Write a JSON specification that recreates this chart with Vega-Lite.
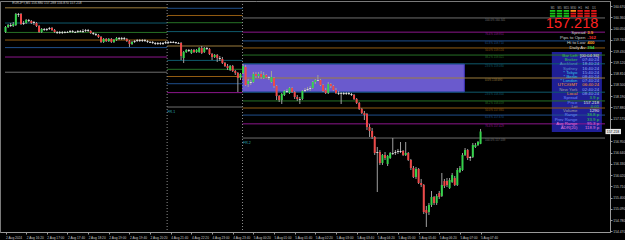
{
"$schema": "https://vega.github.io/schema/vega-lite/v6.json",
"width": 610, "height": 231,
"autosize": {"type": "none"},
"padding": {"left": 0, "top": 1, "right": 15, "bottom": 8},
"background": "#000000",
"config": {"font": "Liberation Sans", "view": {"stroke": "#7a7a7a", "strokeWidth": 1},
  "axis": {"grid": false, "labelOverlap": false, "labelFlush": false, "labelFontSize": 3.3, "labelColor": "#c8c8c8", "tickColor": "#9a9a9a", "domainColor": "#9a9a9a", "tickSize": 2}},
"datasets": {
"candles": [
{"i":0,"o":159.955,"h":160.120,"l":159.928,"c":160.093},
{"i":1,"o":160.093,"h":160.175,"l":160.065,"c":160.148},
{"i":2,"o":160.148,"h":160.203,"l":160.093,"c":160.120},
{"i":3,"o":160.120,"h":160.230,"l":160.093,"c":160.175},
{"i":4,"o":160.148,"h":160.478,"l":160.120,"c":160.450},
{"i":5,"o":160.423,"h":160.478,"l":160.368,"c":160.450},
{"i":6,"o":160.450,"h":160.478,"l":160.148,"c":160.175},
{"i":7,"o":160.175,"h":160.258,"l":160.148,"c":160.203},
{"i":8,"o":160.203,"h":160.313,"l":160.175,"c":160.285},
{"i":9,"o":160.285,"h":160.313,"l":160.230,"c":160.258},
{"i":10,"o":160.258,"h":160.285,"l":160.175,"c":160.203},
{"i":11,"o":160.203,"h":160.258,"l":160.148,"c":160.230},
{"i":12,"o":160.203,"h":160.230,"l":160.093,"c":160.120},
{"i":13,"o":160.120,"h":160.148,"l":159.928,"c":159.955},
{"i":14,"o":159.955,"h":160.065,"l":159.928,"c":160.038},
{"i":15,"o":160.038,"h":160.065,"l":159.983,"c":160.010},
{"i":16,"o":160.010,"h":160.065,"l":159.983,"c":160.038},
{"i":17,"o":160.038,"h":160.093,"l":160.010,"c":160.065},
{"i":18,"o":160.065,"h":160.093,"l":159.983,"c":160.010},
{"i":19,"o":160.010,"h":160.038,"l":159.928,"c":159.955},
{"i":20,"o":159.955,"h":159.983,"l":159.900,"c":159.928},
{"i":21,"o":159.928,"h":159.983,"l":159.900,"c":159.955},
{"i":22,"o":159.955,"h":159.983,"l":159.900,"c":159.928},
{"i":23,"o":159.928,"h":159.983,"l":159.920,"c":159.955},
{"i":24,"o":159.955,"h":159.983,"l":159.928,"c":159.930},
{"i":25,"o":159.955,"h":160.010,"l":159.928,"c":159.983},
{"i":26,"o":159.983,"h":160.010,"l":159.928,"c":159.955},
{"i":27,"o":159.955,"h":159.983,"l":159.928,"c":159.930},
{"i":28,"o":159.955,"h":160.010,"l":159.928,"c":159.983},
{"i":29,"o":159.983,"h":160.010,"l":159.950,"c":159.955},
{"i":30,"o":159.955,"h":160.038,"l":159.928,"c":159.983},
{"i":31,"o":159.983,"h":160.038,"l":159.955,"c":160.010},
{"i":32,"o":160.010,"h":160.038,"l":159.955,"c":159.983},
{"i":33,"o":159.983,"h":160.010,"l":159.900,"c":159.928},
{"i":34,"o":159.928,"h":159.955,"l":159.873,"c":159.900},
{"i":35,"o":159.900,"h":159.928,"l":159.845,"c":159.873},
{"i":36,"o":159.873,"h":159.900,"l":159.790,"c":159.818},
{"i":37,"o":159.818,"h":159.845,"l":159.653,"c":159.680},
{"i":38,"o":159.680,"h":159.790,"l":159.653,"c":159.763},
{"i":39,"o":159.763,"h":159.790,"l":159.680,"c":159.708},
{"i":40,"o":159.708,"h":159.790,"l":159.680,"c":159.763},
{"i":41,"o":159.763,"h":159.790,"l":159.653,"c":159.680},
{"i":42,"o":159.680,"h":159.763,"l":159.653,"c":159.735},
{"i":43,"o":159.735,"h":159.818,"l":159.708,"c":159.790},
{"i":44,"o":159.790,"h":159.818,"l":159.735,"c":159.763},
{"i":45,"o":159.763,"h":159.818,"l":159.735,"c":159.790},
{"i":46,"o":159.790,"h":159.818,"l":159.735,"c":159.763},
{"i":47,"o":159.763,"h":159.790,"l":159.680,"c":159.708},
{"i":48,"o":159.708,"h":159.735,"l":159.543,"c":159.625},
{"i":49,"o":159.625,"h":159.708,"l":159.598,"c":159.680},
{"i":50,"o":159.680,"h":159.735,"l":159.653,"c":159.708},
{"i":51,"o":159.708,"h":159.763,"l":159.680,"c":159.735},
{"i":52,"o":159.735,"h":159.763,"l":159.680,"c":159.708},
{"i":53,"o":159.708,"h":159.763,"l":159.680,"c":159.735},
{"i":54,"o":159.735,"h":159.763,"l":159.680,"c":159.708},
{"i":55,"o":159.708,"h":159.735,"l":159.653,"c":159.680},
{"i":56,"o":159.680,"h":159.708,"l":159.653,"c":159.655},
{"i":57,"o":159.680,"h":159.708,"l":159.625,"c":159.653},
{"i":58,"o":159.653,"h":159.680,"l":159.598,"c":159.625},
{"i":59,"o":159.625,"h":159.680,"l":159.598,"c":159.653},
{"i":60,"o":159.653,"h":159.680,"l":159.598,"c":159.625},
{"i":61,"o":159.625,"h":159.680,"l":159.598,"c":159.653},
{"i":62,"o":159.653,"h":159.708,"l":159.625,"c":159.680},
{"i":63,"o":159.653,"h":159.708,"l":159.625,"c":159.680},
{"i":64,"o":159.680,"h":159.708,"l":159.650,"c":159.653},
{"i":65,"o":159.653,"h":159.708,"l":159.650,"c":159.680},
{"i":66,"o":159.680,"h":159.685,"l":159.625,"c":159.653},
{"i":67,"o":159.653,"h":159.680,"l":159.625,"c":159.628},
{"i":68,"o":159.653,"h":159.680,"l":159.185,"c":159.295},
{"i":69,"o":159.240,"h":159.433,"l":159.103,"c":159.405},
{"i":70,"o":159.405,"h":159.488,"l":159.378,"c":159.460},
{"i":71,"o":159.460,"h":159.488,"l":159.405,"c":159.433},
{"i":72,"o":159.378,"h":159.488,"l":159.350,"c":159.460},
{"i":73,"o":159.460,"h":159.488,"l":159.378,"c":159.405},
{"i":74,"o":159.405,"h":159.488,"l":159.378,"c":159.460},
{"i":75,"o":159.405,"h":159.543,"l":159.378,"c":159.515},
{"i":76,"o":159.515,"h":159.570,"l":159.350,"c":159.378},
{"i":77,"o":159.405,"h":159.543,"l":159.378,"c":159.515},
{"i":78,"o":159.515,"h":159.543,"l":159.460,"c":159.488},
{"i":79,"o":159.488,"h":159.515,"l":159.323,"c":159.350},
{"i":80,"o":159.350,"h":159.378,"l":159.185,"c":159.268},
{"i":81,"o":159.268,"h":159.350,"l":159.240,"c":159.323},
{"i":82,"o":159.323,"h":159.350,"l":159.130,"c":159.240},
{"i":83,"o":159.240,"h":159.295,"l":159.158,"c":159.213},
{"i":84,"o":159.213,"h":159.268,"l":159.075,"c":159.103},
{"i":85,"o":159.103,"h":159.130,"l":158.993,"c":159.020},
{"i":86,"o":159.020,"h":159.075,"l":158.910,"c":158.965},
{"i":87,"o":158.910,"h":159.048,"l":158.883,"c":159.020},
{"i":88,"o":159.020,"h":159.048,"l":158.855,"c":158.883},
{"i":89,"o":158.883,"h":158.910,"l":158.773,"c":158.828},
{"i":90,"o":158.828,"h":158.855,"l":158.305,"c":158.690},
{"i":91,"o":158.690,"h":158.828,"l":158.635,"c":158.800},
{"i":92,"o":158.828,"h":159.075,"l":158.800,"c":159.020},
{"i":93,"o":158.993,"h":159.048,"l":158.470,"c":158.498},
{"i":94,"o":158.525,"h":158.663,"l":158.443,"c":158.608},
{"i":95,"o":158.580,"h":158.635,"l":158.498,"c":158.553},
{"i":96,"o":158.580,"h":158.855,"l":158.553,"c":158.800},
{"i":97,"o":158.800,"h":158.855,"l":158.690,"c":158.745},
{"i":98,"o":158.745,"h":158.855,"l":158.690,"c":158.800},
{"i":99,"o":158.800,"h":158.883,"l":158.663,"c":158.718},
{"i":100,"o":158.690,"h":158.855,"l":158.663,"c":158.773},
{"i":101,"o":158.773,"h":158.800,"l":158.690,"c":158.718},
{"i":102,"o":158.718,"h":158.745,"l":158.635,"c":158.690},
{"i":103,"o":158.580,"h":158.883,"l":158.553,"c":158.718},
{"i":104,"o":158.690,"h":158.718,"l":158.415,"c":158.470},
{"i":105,"o":158.470,"h":158.498,"l":158.085,"c":158.195},
{"i":106,"o":158.195,"h":158.223,"l":158.030,"c":158.085},
{"i":107,"o":158.085,"h":158.278,"l":157.975,"c":158.250},
{"i":108,"o":158.223,"h":158.360,"l":158.195,"c":158.333},
{"i":109,"o":158.333,"h":158.388,"l":158.278,"c":158.305},
{"i":110,"o":158.278,"h":158.443,"l":158.250,"c":158.415},
{"i":111,"o":158.415,"h":158.443,"l":158.278,"c":158.305},
{"i":112,"o":158.305,"h":158.333,"l":158.113,"c":158.168},
{"i":113,"o":158.168,"h":158.223,"l":158.058,"c":158.113},
{"i":114,"o":158.113,"h":158.168,"l":157.975,"c":158.088},
{"i":115,"o":158.113,"h":158.360,"l":158.085,"c":158.333},
{"i":116,"o":158.333,"h":158.415,"l":158.305,"c":158.360},
{"i":117,"o":158.360,"h":158.443,"l":158.333,"c":158.388},
{"i":118,"o":158.388,"h":158.470,"l":158.333,"c":158.415},
{"i":119,"o":158.415,"h":158.608,"l":158.388,"c":158.580},
{"i":120,"o":158.580,"h":158.663,"l":158.525,"c":158.635},
{"i":121,"o":158.635,"h":158.773,"l":158.608,"c":158.610},
{"i":122,"o":158.635,"h":158.663,"l":158.470,"c":158.498},
{"i":123,"o":158.498,"h":158.525,"l":158.305,"c":158.333},
{"i":124,"o":158.360,"h":158.415,"l":158.250,"c":158.278},
{"i":125,"o":158.278,"h":158.580,"l":158.250,"c":158.525},
{"i":126,"o":158.525,"h":158.553,"l":158.415,"c":158.470},
{"i":127,"o":158.470,"h":158.498,"l":158.333,"c":158.360},
{"i":128,"o":158.360,"h":158.415,"l":158.250,"c":158.278},
{"i":129,"o":158.278,"h":158.333,"l":158.223,"c":158.252},
{"i":130,"o":158.278,"h":158.305,"l":157.975,"c":158.253},
{"i":131,"o":158.278,"h":158.305,"l":158.223,"c":158.250},
{"i":132,"o":158.250,"h":158.305,"l":158.223,"c":158.278},
{"i":133,"o":158.278,"h":158.305,"l":158.223,"c":158.250},
{"i":134,"o":158.250,"h":158.278,"l":158.195,"c":158.223},
{"i":135,"o":158.223,"h":158.250,"l":158.085,"c":158.113},
{"i":136,"o":158.113,"h":158.140,"l":157.975,"c":158.003},
{"i":137,"o":158.003,"h":158.030,"l":157.810,"c":157.838},
{"i":138,"o":157.838,"h":157.865,"l":157.700,"c":157.728},
{"i":139,"o":157.728,"h":157.783,"l":157.535,"c":157.673},
{"i":140,"o":157.700,"h":157.728,"l":157.260,"c":157.343},
{"i":141,"o":157.343,"h":157.425,"l":157.068,"c":157.233},
{"i":142,"o":157.233,"h":157.315,"l":157.013,"c":157.068},
{"i":143,"o":157.068,"h":157.095,"l":156.573,"c":156.628},
{"i":144,"o":156.628,"h":156.793,"l":155.555,"c":156.655},
{"i":145,"o":156.655,"h":156.710,"l":156.298,"c":156.353},
{"i":146,"o":156.353,"h":156.600,"l":156.298,"c":156.573},
{"i":147,"o":156.573,"h":156.655,"l":156.435,"c":156.490},
{"i":148,"o":156.325,"h":156.573,"l":156.270,"c":156.545},
{"i":149,"o":156.490,"h":156.655,"l":156.463,"c":156.628},
{"i":150,"o":156.628,"h":157.040,"l":156.573,"c":156.603},
{"i":151,"o":156.628,"h":156.710,"l":156.573,"c":156.655},
{"i":152,"o":156.655,"h":156.738,"l":156.600,"c":156.683},
{"i":153,"o":156.655,"h":156.930,"l":156.628,"c":156.683},
{"i":154,"o":156.683,"h":156.710,"l":156.545,"c":156.573},
{"i":155,"o":156.573,"h":156.930,"l":156.545,"c":156.628},
{"i":156,"o":156.628,"h":156.655,"l":156.408,"c":156.435},
{"i":157,"o":156.435,"h":156.463,"l":156.160,"c":156.215},
{"i":158,"o":156.215,"h":156.270,"l":155.940,"c":155.968},
{"i":159,"o":155.968,"h":156.243,"l":155.913,"c":156.188},
{"i":160,"o":156.188,"h":156.215,"l":155.775,"c":155.803},
{"i":161,"o":155.803,"h":155.913,"l":155.693,"c":155.748},
{"i":162,"o":155.748,"h":155.775,"l":154.950,"c":155.005},
{"i":163,"o":155.060,"h":155.170,"l":154.593,"c":154.978},
{"i":164,"o":155.005,"h":155.253,"l":154.923,"c":155.198},
{"i":165,"o":155.198,"h":155.583,"l":155.143,"c":155.418},
{"i":166,"o":155.418,"h":155.445,"l":155.198,"c":155.253},
{"i":167,"o":155.253,"h":155.500,"l":155.198,"c":155.445},
{"i":168,"o":155.528,"h":155.583,"l":155.363,"c":155.418},
{"i":169,"o":155.445,"h":156.078,"l":155.418,"c":155.748},
{"i":170,"o":155.858,"h":155.913,"l":155.665,"c":155.720},
{"i":171,"o":155.858,"h":155.940,"l":155.693,"c":155.748},
{"i":172,"o":155.665,"h":155.940,"l":155.638,"c":155.885},
{"i":173,"o":155.830,"h":156.078,"l":155.803,"c":156.023},
{"i":174,"o":155.940,"h":155.995,"l":155.720,"c":155.748},
{"i":175,"o":155.748,"h":156.215,"l":155.720,"c":156.160},
{"i":176,"o":156.105,"h":156.270,"l":156.078,"c":156.215},
{"i":177,"o":156.160,"h":156.628,"l":156.133,"c":156.573},
{"i":178,"o":156.573,"h":156.765,"l":156.545,"c":156.710},
{"i":179,"o":156.710,"h":156.738,"l":156.435,"c":156.490},
{"i":180,"o":156.490,"h":156.545,"l":156.408,"c":156.518},
{"i":181,"o":156.518,"h":156.903,"l":156.490,"c":156.848},
{"i":182,"o":156.793,"h":156.903,"l":156.765,"c":156.848},
{"i":183,"o":156.848,"h":156.958,"l":156.820,"c":156.930},
{"i":184,"o":156.880,"h":157.288,"l":156.870,"c":157.218}
],
"fib": [
{"x0":-0.2,"x1":62.6,"p":160.620,"lvl":"0"},
{"x0":-0.2,"x1":62.6,"p":160.202,"lvl":"23.6"},
{"x0":-0.2,"x1":62.6,"p":159.943,"lvl":"38.2"},
{"x0":-0.2,"x1":62.6,"p":159.734,"lvl":"50"},
{"x0":-0.2,"x1":62.6,"p":159.526,"lvl":"61.8"},
{"x0":-0.2,"x1":62.6,"p":159.267,"lvl":"76.4"},
{"x0":-0.2,"x1":62.6,"p":158.849,"lvl":"100"},
{"x0":62.6,"x1":91.8,"p":160.607,"lvl":"61.8"},
{"x0":62.6,"x1":91.8,"p":160.409,"lvl":"50"},
{"x0":62.6,"x1":91.8,"p":160.211,"lvl":"38.2"},
{"x0":62.6,"x1":91.8,"p":159.966,"lvl":"23.6"},
{"x0":62.6,"x1":91.8,"p":159.570,"lvl":"0"},
{"x0":62.6,"x1":91.8,"p":159.174,"lvl":"23.6"},
{"x0":62.6,"x1":91.8,"p":158.929,"lvl":"38.2"},
{"x0":62.6,"x1":91.8,"p":158.731,"lvl":"50"},
{"x0":62.6,"x1":91.8,"p":158.533,"lvl":"61.8"},
{"x0":62.6,"x1":91.8,"p":158.288,"lvl":"76.4"},
{"x0":62.6,"x1":91.8,"p":157.892,"lvl":"100"},
{"x0":91.8,"x1":232.2,"p":160.341,"lvl":"100"},
{"x0":91.8,"x1":232.2,"p":159.951,"lvl":"76.4"},
{"x0":91.8,"x1":232.2,"p":159.710,"lvl":"61.8"},
{"x0":91.8,"x1":232.2,"p":159.516,"lvl":"50"},
{"x0":91.8,"x1":232.2,"p":159.321,"lvl":"38.2"},
{"x0":91.8,"x1":232.2,"p":159.080,"lvl":"23.6"},
{"x0":91.8,"x1":232.2,"p":158.690,"lvl":"0"},
{"x0":91.8,"x1":232.2,"p":158.300,"lvl":"23.6"},
{"x0":91.8,"x1":232.2,"p":158.059,"lvl":"38.2"},
{"x0":91.8,"x1":232.2,"p":157.865,"lvl":"50"},
{"x0":91.8,"x1":232.2,"p":157.670,"lvl":"61.8"},
{"x0":91.8,"x1":232.2,"p":157.429,"lvl":"76.4"},
{"x0":91.8,"x1":232.2,"p":157.039,"lvl":"100"}
],
"fiblab": [
{"p":160.341,"t":"100.0% 160.341","lvl":"100"},
{"p":159.951,"t":"76.4% 159.951","lvl":"76.4"},
{"p":159.710,"t":"61.8% 159.710","lvl":"61.8"},
{"p":159.516,"t":"50.0% 159.516","lvl":"50"},
{"p":159.321,"t":"38.2% 159.321","lvl":"38.2"},
{"p":159.080,"t":"23.6% 159.080","lvl":"23.6"},
{"p":158.690,"t":"0.0% 158.690","lvl":"0"},
{"p":158.300,"t":"23.6% 158.300","lvl":"23.6"},
{"p":158.059,"t":"38.2% 158.059","lvl":"38.2"},
{"p":157.865,"t":"50.0% 157.865","lvl":"50"},
{"p":157.670,"t":"61.8% 157.670","lvl":"61.8"},
{"p":157.429,"t":"76.4% 157.429","lvl":"76.4"},
{"p":157.039,"t":"100.0% 157.039","lvl":"100"}
],
"fr": [{"i":62.7,"p":157.755,"t":"FR.1"},{"i":92.0,"p":156.903,"t":"FR.2"}],
"zone": [{"i0":91.8,"i1":177.7,"p0":159.075,"p1":158.305}],
"sep": [{"i":62.6},{"i":91.8}],
"panel": [{"i0":211.6,"i1":231.0,"p0":159.405,"p1":157.205}],
"info": [
{"p":159.303,"label":"Bar Left","lk":"green","value":"[00:04:36]","vk":"white"},
{"p":159.186,"label":"Broker","lk":"green","value":"07:40:24","vk":"timeval"},
{"p":159.070,"label":"Auckland","lk":"steel","value":"18:40:24","vk":"timeval"},
{"p":158.951,"label":"Sydney","lk":"steel","value":"16:40:24","vk":"timeval"},
{"p":158.836,"label":"* Tokyo","lk":"cyan","value":"15:40:24","vk":"timeval"},
{"p":158.718,"label":"* Berlin","lk":"cyan","value":"08:40:24","vk":"timeval"},
{"p":158.599,"label":"* London","lk":"cyan","value":"07:40:24","vk":"timeval"},
{"p":158.484,"label":"UTC/GMT","lk":"orange","value":"06:40:24","vk":"orange"},
{"p":158.366,"label":"New York","lk":"grey","value":"02:40:24","vk":"timeval"},
{"p":158.250,"label":"Local","lk":"orange","value":"08:40:24","vk":"timeval"},
{"p":158.132,"label":"Spread","lk":"blue","value":"3.9 p","vk":"green"},
{"p":158.014,"label":"Price","lk":"blue","value":"157.218","vk":"white"},
{"p":157.898,"label":"Lot","lk":"grey","value":"0.01","vk":"green"},
{"p":157.780,"label":"Volume","lk":"grey","value":"1290","vk":"white"},
{"p":157.664,"label":"Range","lk":"blue","value":"38.8 p","vk":"green"},
{"p":157.546,"label":"Prev Range","lk":"blue","value":"33.9 p","vk":"green"},
{"p":157.428,"label":"Avg Range","lk":"pink","value":"95.3 p","vk":"pink"},
{"p":157.312,"label":"ADR(20)","lk":"pink","value":"118.9 p","vk":"pink"}
],
"stats": [
{"p":159.915,"label":"Spread","value":"3.9","vk":"orange"},
{"p":159.782,"label":"Pips to Open","value":"-162","vk":"red"},
{"p":159.648,"label":"Hi to Low","value":"400","vk":"orange"},
{"p":159.515,"label":"Daily Av","value":"394","vk":"green"}
],
"big": [{"p":159.985,"t":"157.218"}],
"sig": [
{"i0":210.86,"i1":212.96,"p0":160.560,"p1":160.511,"s":"up"},
{"i0":210.86,"i1":212.96,"p0":160.486,"p1":160.439,"s":"up"},
{"i0":210.86,"i1":212.96,"p0":160.417,"p1":160.370,"s":"up"},
{"i0":213.52,"i1":215.62,"p0":160.560,"p1":160.511,"s":"up"},
{"i0":213.52,"i1":215.62,"p0":160.486,"p1":160.439,"s":"up"},
{"i0":213.52,"i1":215.62,"p0":160.417,"p1":160.370,"s":"up"},
{"i0":216.19,"i1":218.29,"p0":160.560,"p1":160.511,"s":"up"},
{"i0":216.19,"i1":218.29,"p0":160.486,"p1":160.439,"s":"up"},
{"i0":216.19,"i1":218.29,"p0":160.417,"p1":160.370,"s":"up"},
{"i0":218.86,"i1":220.96,"p0":160.560,"p1":160.511,"s":"mid"},
{"i0":218.86,"i1":220.96,"p0":160.486,"p1":160.439,"s":"down"},
{"i0":218.86,"i1":220.96,"p0":160.417,"p1":160.370,"s":"down"},
{"i0":221.52,"i1":223.62,"p0":160.560,"p1":160.511,"s":"down"},
{"i0":221.52,"i1":223.62,"p0":160.486,"p1":160.439,"s":"down"},
{"i0":221.52,"i1":223.62,"p0":160.417,"p1":160.370,"s":"down"},
{"i0":224.19,"i1":226.29,"p0":160.560,"p1":160.511,"s":"down"},
{"i0":224.19,"i1":226.29,"p0":160.486,"p1":160.439,"s":"down"},
{"i0":224.19,"i1":226.29,"p0":160.417,"p1":160.370,"s":"down"},
{"i0":226.86,"i1":228.96,"p0":160.560,"p1":160.511,"s":"down"},
{"i0":226.86,"i1":228.96,"p0":160.486,"p1":160.439,"s":"down"},
{"i0":226.86,"i1":228.96,"p0":160.417,"p1":160.370,"s":"down"}
],
"sighdr": [
{"i":211.91,"t":"M1"},{"i":214.57,"t":"M5"},{"i":217.24,"t":"M15"},{"i":219.91,"t":"M30"},
{"i":222.57,"t":"H1"},{"i":225.24,"t":"H4"},{"i":227.91,"t":"D1"}
],
"title": [{"p":160.745,"t":"EURJPY,M5  156.880 157.288 156.870 157.218"}],
"pbox": [{"i0":232.4,"i1":238.4,"p0":157.290,"p1":157.146,"p":157.218,"t":"157.218"}]
},
"layer": [
{"data": {"name": "zone"}, "mark": {"type": "rect", "fill": "#6a5acd", "stroke": "#4338c9", "strokeWidth": 1},
 "encoding": {
  "x": {"field": "i0", "type": "quantitative", "title": null, "scale": {"domain": [-0.2, 232.2], "nice": false, "zero": false},
    "axis": {"title": null, "tickCount": 200, "values": [0,8,16,24,32,40,48,56,64,72,80,88,96,104,112,120,128,136,144,152,160,168,176,184],
      "labelExpr": "['2 Aug 2024','2 Aug 16:20','2 Aug 17:00','2 Aug 17:40','2 Aug 18:20','2 Aug 19:00','2 Aug 19:40','2 Aug 20:20','4 Aug 21:40','4 Aug 22:20','4 Aug 23:00','4 Aug 23:40','5 Aug 00:20','5 Aug 01:00','5 Aug 01:40','5 Aug 02:20','5 Aug 03:00','5 Aug 03:40','5 Aug 04:20','5 Aug 05:00','5 Aug 05:40','5 Aug 06:20','5 Aug 07:00','5 Aug 07:40'][round(datum.value / 8)]",
      "labelAlign": "left", "labelBaseline": "top", "labelFontSize": 3.2, "labelColor": "#c8c8c8", "labelPadding": 1,
      "tickSize": 2, "tickColor": "#9a9a9a", "domainColor": "#9a9a9a", "grid": false, "labelOverlap": false, "labelFlush": false, "labelBound": false}},
  "x2": {"field": "i1"},
  "y": {"field": "p0", "type": "quantitative", "title": null, "scale": {"domain": [154.455, 160.8075], "nice": false, "zero": false},
    "axis": {"title": null, "orient": "right", "tickCount": 200, "values": [160.67,160.36,160.05,159.74,159.43,159.12,158.81,158.5,158.19,157.88,157.57,156.95,156.64,156.33,156.02,155.71,155.4,155.09,154.78,154.47],
      "format": ".3f", "labelFontSize": 3.3, "labelColor": "#c8c8c8", "labelPadding": 0.8, "tickSize": 2, "tickColor": "#9a9a9a",
      "domainColor": "#9a9a9a", "grid": false, "labelOverlap": false, "labelFlush": false, "labelBound": false}},
  "y2": {"field": "p1"}}},
{"data": {"name": "panel"}, "mark": {"type": "rect", "fill": "#1f1f96"},
 "encoding": {
  "x": {"field": "i0", "type": "quantitative", "title": null, "scale": {"domain": [-0.2, 232.2], "nice": false, "zero": false}},
  "x2": {"field": "i1"},
  "y": {"field": "p0", "type": "quantitative", "title": null, "scale": {"domain": [154.455, 160.8075], "nice": false, "zero": false}},
  "y2": {"field": "p1"}}},
{"data": {"name": "fib"}, "mark": {"type": "rule", "strokeWidth": 1},
 "encoding": {
  "x": {"field": "x0", "type": "quantitative", "title": null, "scale": {"domain": [-0.2, 232.2], "nice": false, "zero": false}},
  "x2": {"field": "x1"},
  "y": {"field": "p", "type": "quantitative", "title": null, "scale": {"domain": [154.455, 160.8075], "nice": false, "zero": false}},
  "color": {"field": "lvl", "type": "nominal", "legend": null,
    "scale": {"domain": ["0","23.6","38.2","50","61.8","76.4","100"], "range": ["#9c7c3c","#0f5a6c","#267026","#925c12","#1f4f8c","#8c168c","#6e6e6e"]}}}},
{"data": {"name": "sep"}, "mark": {"type": "rule", "color": "#8c8c8c", "strokeDash": [1, 2], "strokeWidth": 1},
 "encoding": {
  "x": {"field": "i", "type": "quantitative", "title": null, "scale": {"domain": [-0.2, 232.2], "nice": false, "zero": false}}}},
{"data": {"name": "candles"}, "mark": {"type": "rule", "color": "#a0a0a0", "strokeWidth": 1},
 "encoding": {
  "x": {"field": "i", "type": "quantitative", "title": null, "scale": {"domain": [-0.2, 232.2], "nice": false, "zero": false}},
  "y": {"field": "l", "type": "quantitative", "title": null, "scale": {"domain": [154.455, 160.8075], "nice": false, "zero": false}},
  "y2": {"field": "h"}}},
{"data": {"name": "candles"}, "mark": {"type": "bar", "size": 2},
 "encoding": {
  "x": {"field": "i", "type": "quantitative", "title": null, "scale": {"domain": [-0.2, 232.2], "nice": false, "zero": false}},
  "y": {"field": "o", "type": "quantitative", "title": null, "scale": {"domain": [154.455, 160.8075], "nice": false, "zero": false}},
  "y2": {"field": "c"},
  "color": {"condition": [{"test": "abs(datum.c - datum.o) < 0.03", "value": "#d8d8d8"}, {"test": "datum.c > datum.o", "value": "#36d24c"}], "value": "#ee4848"}}},
{"data": {"name": "fiblab"}, "mark": {"type": "text", "align": "left", "baseline": "top", "dy": 0.5, "fontSize": 2.8},
 "encoding": {
  "x": {"datum": 185.7, "type": "quantitative", "title": null, "scale": {"domain": [-0.2, 232.2], "nice": false, "zero": false}},
  "y": {"field": "p", "type": "quantitative", "title": null, "scale": {"domain": [154.455, 160.8075], "nice": false, "zero": false}},
  "text": {"field": "t"},
  "color": {"field": "lvl", "type": "nominal", "legend": null,
    "scale": {"domain": ["0","23.6","38.2","50","61.8","76.4","100"], "range": ["#9c7c3c","#0f5a6c","#267026","#925c12","#1f4f8c","#8c168c","#6e6e6e"]}}}},
{"data": {"name": "fr"}, "mark": {"type": "text", "align": "left", "baseline": "middle", "fontSize": 3.6, "color": "#2aa3b8"},
 "encoding": {
  "x": {"field": "i", "type": "quantitative", "title": null, "scale": {"domain": [-0.2, 232.2], "nice": false, "zero": false}},
  "y": {"field": "p", "type": "quantitative", "title": null, "scale": {"domain": [154.455, 160.8075], "nice": false, "zero": false}},
  "text": {"field": "t"}}},
{"data": {"name": "info"}, "mark": {"type": "text", "align": "right", "baseline": "middle", "fontSize": 4.3},
 "encoding": {
  "x": {"datum": 221.5, "type": "quantitative", "title": null, "scale": {"domain": [-0.2, 232.2], "nice": false, "zero": false}},
  "y": {"field": "p", "type": "quantitative", "title": null, "scale": {"domain": [154.455, 160.8075], "nice": false, "zero": false}},
  "text": {"field": "label"},
  "fill": {"field": "lk", "type": "nominal", "legend": null,
    "scale": {"domain": ["green","steel","cyan","orange","grey","blue","white","pink","red","timeval","up","mid","down"],
      "range": ["#35c94a","#5b87c9","#34c6e6","#ff9b21","#a0a0a0","#6f8cff","#e8e8e8","#e27be0","#ff3030","#8fb0ff","#18c818","#ff8a1a","#e81818"]}}}},
{"data": {"name": "info"}, "mark": {"type": "text", "align": "right", "baseline": "middle", "fontSize": 4.3},
 "encoding": {
  "x": {"datum": 229.9, "type": "quantitative", "title": null, "scale": {"domain": [-0.2, 232.2], "nice": false, "zero": false}},
  "y": {"field": "p", "type": "quantitative", "title": null, "scale": {"domain": [154.455, 160.8075], "nice": false, "zero": false}},
  "text": {"field": "value"},
  "fill": {"field": "vk", "type": "nominal", "legend": null,
    "scale": {"domain": ["green","steel","cyan","orange","grey","blue","white","pink","red","timeval","up","mid","down"],
      "range": ["#35c94a","#5b87c9","#34c6e6","#ff9b21","#a0a0a0","#6f8cff","#e8e8e8","#e27be0","#ff3030","#8fb0ff","#18c818","#ff8a1a","#e81818"]}}}},
{"data": {"name": "stats"}, "mark": {"type": "text", "align": "right", "baseline": "middle", "fontSize": 4.4, "color": "#d0d0d0"},
 "encoding": {
  "x": {"datum": 224.6, "type": "quantitative", "title": null, "scale": {"domain": [-0.2, 232.2], "nice": false, "zero": false}},
  "y": {"field": "p", "type": "quantitative", "title": null, "scale": {"domain": [154.455, 160.8075], "nice": false, "zero": false}},
  "text": {"field": "label"}}},
{"data": {"name": "stats"}, "mark": {"type": "text", "align": "left", "baseline": "middle", "fontSize": 4.4, "fontWeight": "bold"},
 "encoding": {
  "x": {"datum": 225.3, "type": "quantitative", "title": null, "scale": {"domain": [-0.2, 232.2], "nice": false, "zero": false}},
  "y": {"field": "p", "type": "quantitative", "title": null, "scale": {"domain": [154.455, 160.8075], "nice": false, "zero": false}},
  "text": {"field": "value"},
  "fill": {"field": "vk", "type": "nominal", "legend": null,
    "scale": {"domain": ["green","steel","cyan","orange","grey","blue","white","pink","red","timeval","up","mid","down"],
      "range": ["#35c94a","#5b87c9","#34c6e6","#ff9b21","#a0a0a0","#6f8cff","#e8e8e8","#e27be0","#ff3030","#8fb0ff","#18c818","#ff8a1a","#e81818"]}}}},
{"data": {"name": "big"}, "mark": {"type": "text", "align": "right", "baseline": "bottom", "fontSize": 14.5, "color": "#ff2222"},
 "encoding": {
  "x": {"datum": 229.6, "type": "quantitative", "title": null, "scale": {"domain": [-0.2, 232.2], "nice": false, "zero": false}},
  "y": {"field": "p", "type": "quantitative", "title": null, "scale": {"domain": [154.455, 160.8075], "nice": false, "zero": false}},
  "text": {"field": "t"}}},
{"data": {"name": "sig"}, "mark": {"type": "rect"},
 "encoding": {
  "x": {"field": "i0", "type": "quantitative", "title": null, "scale": {"domain": [-0.2, 232.2], "nice": false, "zero": false}},
  "x2": {"field": "i1"},
  "y": {"field": "p0", "type": "quantitative", "title": null, "scale": {"domain": [154.455, 160.8075], "nice": false, "zero": false}},
  "y2": {"field": "p1"},
  "fill": {"field": "s", "type": "nominal", "legend": null,
    "scale": {"domain": ["green","steel","cyan","orange","grey","blue","white","pink","red","timeval","up","mid","down"],
      "range": ["#35c94a","#5b87c9","#34c6e6","#ff9b21","#a0a0a0","#6f8cff","#e8e8e8","#e27be0","#ff3030","#8fb0ff","#18c818","#ff8a1a","#e81818"]}}}},
{"data": {"name": "sighdr"}, "mark": {"type": "text", "align": "center", "baseline": "middle", "fontSize": 2.8, "color": "#b0b0b0"},
 "encoding": {
  "x": {"field": "i", "type": "quantitative", "title": null, "scale": {"domain": [-0.2, 232.2], "nice": false, "zero": false}},
  "y": {"datum": 160.625, "type": "quantitative", "title": null, "scale": {"domain": [154.455, 160.8075], "nice": false, "zero": false}},
  "text": {"field": "t"}}},
{"data": {"name": "title"}, "mark": {"type": "text", "align": "left", "baseline": "middle", "fontSize": 3.3, "color": "#c8c8c8"},
 "encoding": {
  "x": {"datum": 2.6, "type": "quantitative", "title": null, "scale": {"domain": [-0.2, 232.2], "nice": false, "zero": false}},
  "y": {"field": "p", "type": "quantitative", "title": null, "scale": {"domain": [154.455, 160.8075], "nice": false, "zero": false}},
  "text": {"field": "t"}}},
{"data": {"name": "pbox"}, "mark": {"type": "rect", "fill": "#e8e8e8"},
 "encoding": {
  "x": {"field": "i0", "type": "quantitative", "title": null, "scale": {"domain": [-0.2, 232.2], "nice": false, "zero": false}},
  "x2": {"field": "i1"},
  "y": {"field": "p0", "type": "quantitative", "title": null, "scale": {"domain": [154.455, 160.8075], "nice": false, "zero": false}},
  "y2": {"field": "p1"}}},
{"data": {"name": "pbox"}, "mark": {"type": "text", "align": "left", "baseline": "middle", "fontSize": 3.4, "color": "#000000"},
 "encoding": {
  "x": {"datum": 232.9, "type": "quantitative", "title": null, "scale": {"domain": [-0.2, 232.2], "nice": false, "zero": false}},
  "y": {"field": "p", "type": "quantitative", "title": null, "scale": {"domain": [154.455, 160.8075], "nice": false, "zero": false}},
  "text": {"field": "t"}}}
]
}
